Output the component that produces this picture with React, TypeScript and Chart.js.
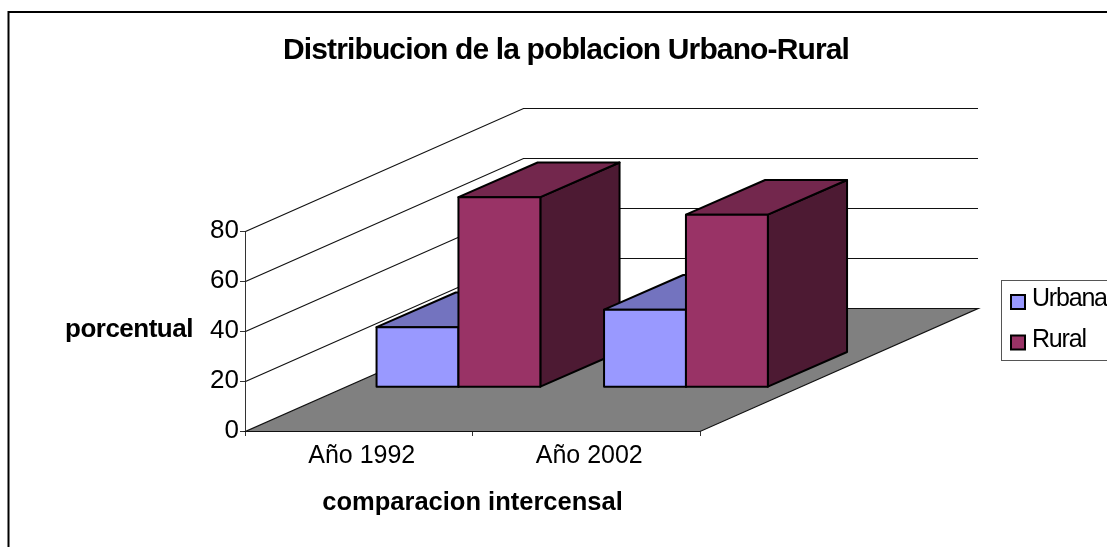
import React, { useEffect, useRef } from "react";
import { Chart, registerables } from "chart.js";

Chart.register(...registerables);

const titleText = "Distribucion de la poblacion Urbano-Rural";
const yAxisTitle = "porcentual";
const xAxisTitle = "comparacion intercensal";
const categories = ["Año 1992", "Año 2002"];
const urbana = [24, 31];
const rural = [76, 69];

const FONT = "'Liberation Sans', Arial, sans-serif";
const W = 1132;
const H = 570;
// 3D projection
const WALL_DX = 278;
const WALL_DY = -123;
const FRONT_DX = 99.7;
const FRONT_DY = -43.8;
const BAR_DX = 79.2;
const BAR_DY = -34.7;

const faces: Record<string, { top: string; side: string }> = {
  Urbana: { top: "#7373BF", side: "#4D4D80" },
  Rural: { top: "#73274D", side: "#4D1A33" },
};

// Tight tracking for one layout box, since Chart.js has no letter-spacing option
function track(box: any, ctx: any, spacing: string, shiftX = 0, shiftY = 0) {
  if (box.__tracked) return;
  box.__tracked = true;
  const draw = box.draw;
  box.draw = function (...args: any[]) {
    ctx.save();
    ctx.letterSpacing = spacing;
    const fill = ctx.fillText;
    if (shiftX || shiftY)
      ctx.fillText = (t: string, x: number, y: number, m?: number) => fill.call(ctx, t, x + shiftX, y + shiftY, m);
    draw.apply(box, args);
    if (shiftX || shiftY) delete ctx.fillText;
    ctx.restore();
  };
}

const box3d = {
  id: "box3d",
  afterLayout(chart: any) {
    const lg = chart.legend;
    lg.left = 995.5;
    lg.right = 1132;
    lg.top = 274;
    lg.bottom = 372;
    lg.width = 136.5;
    lg.height = 98;
    track(lg, chart.ctx, "-1.2px", -5.5, -2.5);
    const t = chart.titleBlock;
    t.left = 0;
    t.right = W;
    t.width = W;
    track(t, chart.ctx, "-0.87px");
  },
  beforeDraw(chart: any) {
    const c = chart.ctx;
    c.save();
    c.fillStyle = "#fff";
    c.fillRect(0, 0, W, H);
    c.strokeStyle = "#000";
    c.lineWidth = 2;
    c.strokeRect(8.5, 12, W + 50, H + 50);
    c.restore();
  },
  beforeDatasetsDraw(chart: any) {
    const c = chart.ctx;
    const { x, y } = chart.scales;
    const l = x.left + 0.5;
    const r = x.right;
    const w = r - l;
    const y0 = Math.round(y.getPixelForValue(0)) + 0.5;
    c.save();
    c.lineWidth = 1.2;
    c.strokeStyle = "#111";
    y.ticks.forEach((t: any) => {
      if (t.value === 0) return;
      const py = Math.round(y.getPixelForValue(t.value)) + 0.5;
      c.beginPath();
      c.moveTo(l, py);
      c.lineTo(l + WALL_DX, py + WALL_DY);
      c.lineTo(l + WALL_DX + w, py + WALL_DY);
      c.stroke();
    });
    c.beginPath();
    c.moveTo(l, y0);
    c.lineTo(r, y0);
    c.lineTo(r + WALL_DX, y0 + WALL_DY);
    c.lineTo(l + WALL_DX, y0 + WALL_DY);
    c.closePath();
    c.fillStyle = "#808080";
    c.fill();
    c.strokeStyle = "#111";
    c.stroke();
    c.restore();
  },
  beforeDatasetDraw() {
    return false;
  },
  afterDatasetsDraw(chart: any) {
    const c = chart.ctx;
    c.save();
    c.lineJoin = "round";
    c.lineWidth = 2;
    c.strokeStyle = "#000";
    categories.forEach((_, i) => {
      chart.data.datasets.forEach((ds: any, d: number) => {
        const el = chart.getDatasetMeta(d).data[i];
        const xl = el.x - el.width / 2 + FRONT_DX;
        const xr = el.x + el.width / 2 + FRONT_DX;
        const yt = el.y + FRONT_DY;
        const yb = el.base + FRONT_DY;
        const poly = (pts: number[][], fill: string) => {
          c.beginPath();
          pts.forEach((p, k) => (k ? c.lineTo(p[0], p[1]) : c.moveTo(p[0], p[1])));
          c.closePath();
          c.fillStyle = fill;
          c.fill();
          c.stroke();
        };
        poly(
          [[xr, yt], [xr + BAR_DX, yt + BAR_DY], [xr + BAR_DX, yb + BAR_DY], [xr, yb]],
          faces[ds.label].side
        );
        poly(
          [[xl, yt], [xl + BAR_DX, yt + BAR_DY], [xr + BAR_DX, yt + BAR_DY], [xr, yt]],
          faces[ds.label].top
        );
        poly([[xl, yt], [xr, yt], [xr, yb], [xl, yb]], ds.backgroundColor);
      });
    });
    c.restore();
  },
  afterDraw(chart: any) {
    const c = chart.ctx;
    const { y } = chart.scales;
    c.save();
    // vertical-axis title, laid flat
    c.font = `bold 26px ${FONT}`;
    c.letterSpacing = "-0.5px";
    c.fillStyle = "#000";
    c.textAlign = "left";
    c.textBaseline = "middle";
    c.fillText(yAxisTitle, 65, y.getPixelForValue(40) - 1);
    c.letterSpacing = "0px";
    // legend frame
    c.strokeStyle = "#555";
    c.lineWidth = 1;
    c.strokeRect(1001.5, 280.5, 200, 80);
    c.restore();
  },
};

export default function App() {
  const ref = useRef<HTMLCanvasElement>(null);
  useEffect(() => {
    const chart = new Chart(ref.current!, {
      type: "bar",
      data: {
        labels: categories,
        datasets: [
          { label: "Urbana", data: urbana, backgroundColor: "#9999FF", borderColor: "#000", borderWidth: 2 },
          { label: "Rural", data: rural, backgroundColor: "#993366", borderColor: "#000", borderWidth: 2 },
        ],
      },
      options: {
        animation: false,
        responsive: false,
        devicePixelRatio: 1,
        layout: { padding: { left: 0, top: 0, bottom: 0, right: W - 700 } },
        datasets: { bar: { categoryPercentage: 0.72, barPercentage: 1 } },
        plugins: {
          tooltip: { enabled: false },
          title: {
            display: true,
            text: titleText,
            color: "#000",
            font: { family: FONT, size: 30, weight: "bold", lineHeight: 1.2 },
            padding: { top: 33, bottom: 162 },
          },
          legend: {
            position: "chartArea",
            align: "start",
            labels: {
              boxWidth: 14,
              boxHeight: 14,
              padding: 15.5,
              color: "#000",
              font: { family: FONT, size: 25 },
            },
          },
        },
        scales: {
          x: {
            afterFit: (s: any) => {
              s.height = H - 431;
            },
            grid: { drawOnChartArea: false, tickLength: 5, color: "#333" },
            border: { display: true, color: "#333" },
            ticks: {
              color: "#000",
              padding: 5.5,
              labelOffset: 3,
              maxRotation: 0,
              font: { family: FONT, size: 25 },
            },
            title: {
              display: true,
              text: xAxisTitle,
              color: "#000",
              font: { family: FONT, size: 25.5, weight: "bold", lineHeight: 1.2 },
              padding: { top: 0, bottom: 52 },
            },
          },
          y: {
            min: 0,
            max: 80,
            afterFit: (s: any) => {
              s.width = 245;
            },
            grid: { drawOnChartArea: false, tickLength: 5, color: "#333" },
            border: { display: true, color: "#333" },
            ticks: {
              stepSize: 20,
              color: "#000",
              padding: 1,
              font: { family: FONT, size: 26 },
            },
          },
        },
      },
      plugins: [box3d],
    } as any);
    return () => chart.destroy();
  }, []);
  return (
    <div style={{ position: "fixed", left: 0, top: 0, width: 1107, height: 547, overflow: "hidden", background: "#fff" }}>
      <canvas ref={ref} width={W} height={H} style={{ display: "block" }} />
    </div>
  );
}
